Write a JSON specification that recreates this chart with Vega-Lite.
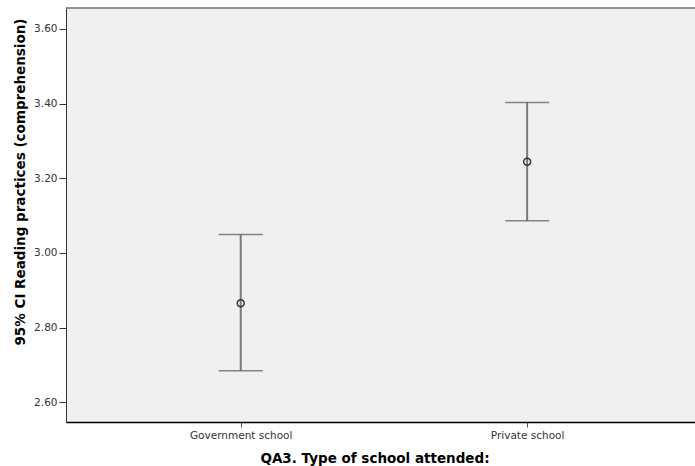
{
  "$schema": "https://vega.github.io/schema/vega-lite/v6.json",
  "width": 629,
  "height": 414,
  "autosize": "none",
  "padding": {"left": 66, "top": 8, "right": 0, "bottom": 44},
  "background": "white",
  "config": {
    "view": {"fill": "#F0F0F0", "stroke": null},
    "font": "DejaVu Sans"
  },
  "data": {
    "values": [
      {"school": "Government school", "mean": 2.865, "lower": 2.684, "upper": 3.049},
      {"school": "Private school", "mean": 3.244, "lower": 3.086, "upper": 3.403}
    ]
  },
  "encoding": {
    "x": {
      "field": "school",
      "type": "nominal",
      "sort": null,
      "scale": {"type": "point", "padding": 0.598, "align": 0.51},
      "axis": {
        "title": "QA3. Type of school attended:",
        "titleFont": "DejaVu Sans",
        "titleFontSize": 13.5,
        "titleFontWeight": "bold",
        "titleColor": "#000",
        "titleAlign": "center",
        "titleBaseline": "middle",
        "titleX": 308.5,
        "titleY": 36,
        "labelAngle": 0,
        "labelFont": "DejaVu Sans",
        "labelFontSize": 10.5,
        "labelColor": "#333",
        "labelPadding": 3,
        "tickSize": 5,
        "tickColor": "#555",
        "domainColor": "#000",
        "domainWidth": 1.5,
        "grid": false
      }
    }
  },
  "layer": [
    {
      "mark": {"type": "rule", "color": "#8c8c8c", "strokeWidth": 1.5},
      "encoding": {"y": {"datum": 3.656, "type": "quantitative"}, "x": {"value": 0}, "x2": {"value": 629}}
    },
    {
      "mark": {"type": "rule", "color": "#7a7a7a", "strokeWidth": 2},
      "encoding": {
        "y": {
          "field": "lower",
          "type": "quantitative",
          "scale": {"domain": [2.547, 3.656], "nice": false, "zero": false},
          "axis": {
            "title": "95% CI Reading practices (comprehension)",
            "titleFont": "DejaVu Sans",
            "titleFontSize": 13.5,
            "titleFontWeight": "bold",
            "titleColor": "#000",
            "titleAngle": -90,
            "titleAlign": "center",
            "titleBaseline": "middle",
            "titleX": -46,
            "titleY": 173.5,
            "values": [2.6, 2.8, 3.0, 3.2, 3.4, 3.6],
            "format": ".2f",
            "labelFont": "DejaVu Sans",
            "labelFontSize": 10.5,
            "labelColor": "#333",
            "labelPadding": 2,
            "tickSize": 7,
            "tickColor": "#333",
            "domainColor": "#333",
            "grid": false
          }
        },
        "y2": {"field": "upper"}
      }
    },
    {
      "mark": {"type": "tick", "color": "#555", "size": 44, "thickness": 1.5},
      "encoding": {"y": {"field": "upper", "type": "quantitative"}}
    },
    {
      "mark": {"type": "tick", "color": "#555", "size": 44, "thickness": 1.5},
      "encoding": {"y": {"field": "lower", "type": "quantitative"}}
    },
    {
      "mark": {"type": "point", "filled": false, "color": "#333", "size": 50, "strokeWidth": 1.4, "opacity": 1},
      "encoding": {"y": {"field": "mean", "type": "quantitative"}}
    }
  ]
}
